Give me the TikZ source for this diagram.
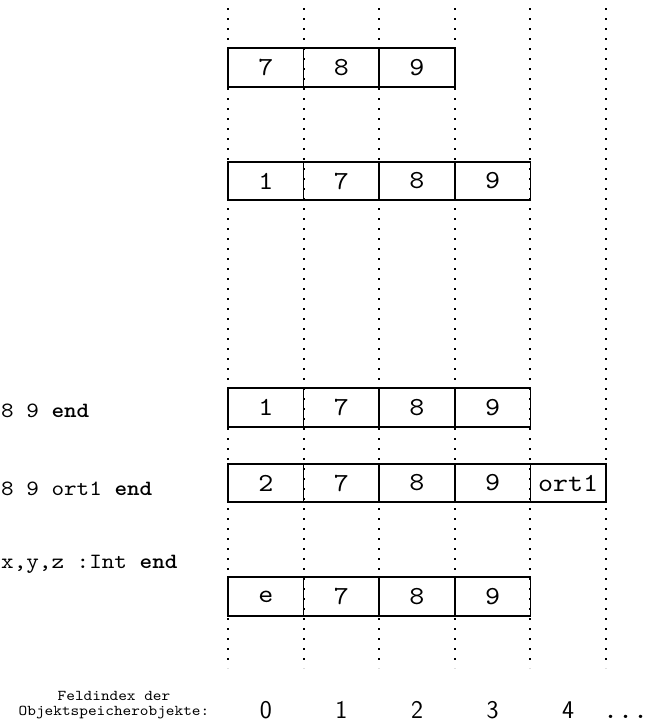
\documentclass[tikz,border=0pt]{standalone}
\usepackage{fontspec}
\newfontfamily\cour[Extension=.otf, FakeStretch=1.1, BoldFont=lmmonolt10-bold]{lmmono10-regular}
\begin{document}
\begin{tikzpicture}[x=1pt,y=-1pt,
 cell/.style={draw, line width=1.7pt, minimum width=75.6pt, minimum height=38.5pt, inner sep=0pt, font=\cour\fontsize{26}{30}\selectfont},
 guide/.style={line width=2pt, dash pattern=on 2pt off 8pt},
 code/.style={anchor=base west, inner sep=0pt, font=\cour\fontsize{21.8}{25}\selectfont},
 small/.style={anchor=base, inner sep=0pt, font=\cour\fontsize{15}{13}\selectfont},
 idx/.style={anchor=base, inner sep=0pt, font=\sffamily\fontsize{25.5}{28}\selectfont}]
\useasboundingbox (0,0) rectangle (659,723);
% guide lines
\foreach \i/\x in {0/228,1/303.6,2/379.2,3/454.8,4/530.4,5/606}{
  \coordinate (t\i) at (\x,8);
  \coordinate (b\i) at (\x,668);
  \draw[guide] (t\i) -- (b\i);
}
% row 1
\node[cell] (r1c0) at (265.8,67.5) {7};
\node[cell] (r1c1) at (341.4,67.5) {8};
\node[cell] (r1c2) at (417,67.5) {9};
% row 2
\node[cell] (r2c0) at (265.8,181) {1};
\node[cell] (r2c1) at (341.4,181) {7};
\node[cell] (r2c2) at (417,181) {8};
\node[cell] (r2c3) at (492.6,181) {9};
% row 3
\node[cell] (r3c0) at (265.8,407.5) {1};
\node[cell] (r3c1) at (341.4,407.5) {7};
\node[cell] (r3c2) at (417,407.5) {8};
\node[cell] (r3c3) at (492.6,407.5) {9};
% row 4
\node[cell] (r4c0) at (265.8,483) {2};
\node[cell] (r4c1) at (341.4,483) {7};
\node[cell] (r4c2) at (417,483) {8};
\node[cell] (r4c3) at (492.6,483) {9};
\node[cell] (r4c4) at (568.2,483) {ort1};
% row 5
\node[cell] (r5c0) at (265.8,596.5) {e};
\node[cell] (r5c1) at (341.4,596.5) {7};
\node[cell] (r5c2) at (417,596.5) {8};
\node[cell] (r5c3) at (492.6,596.5) {9};
% code fragments
\node[code] (k1) at (1,417) {8 9 \textbf{end}};
\node[code] (k2) at (1,495) {8 9 ort1 \textbf{end}};
\node[code] (k3) at (1,568) {x,y,z :Int \textbf{end}};
% index legend
\node[small] (f1) at (114,700) {Feldindex der};
\node[small] (f2) at (114,715) {Objektspeicherobjekte:};
\node[idx] (i0) at (265.8,718) {0};
\node[idx] (i1) at (341.4,718) {1};
\node[idx] (i2) at (417,718) {2};
\node[idx] (i3) at (492.6,718) {3};
\node[idx] (i4) at (568.2,718) {4};
\node[anchor=base west, inner sep=0pt, font=\cour\fontsize{26}{30}\selectfont] (dots) at (603,718) {...};
\end{tikzpicture}
\end{document}
